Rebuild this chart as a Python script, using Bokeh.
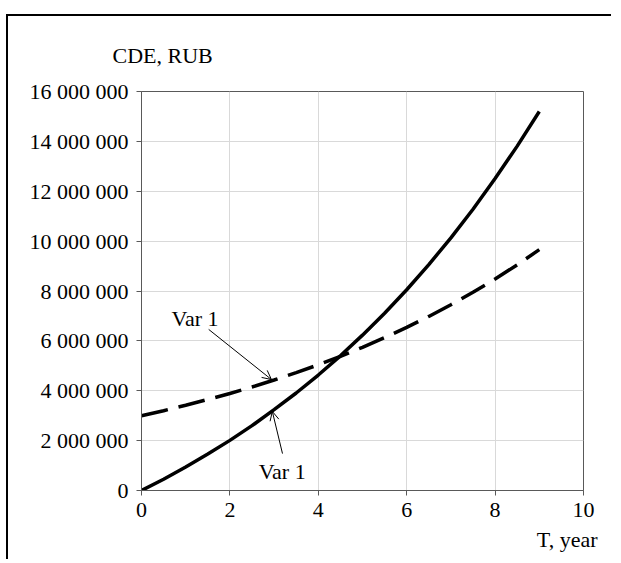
from bokeh.plotting import figure
from bokeh.models import Range1d, Label, Arrow, OpenHead, CustomJSTickFormatter, FixedTicker, Title
from bokeh.embed import file_html
from bokeh.resources import INLINE

# ---- data ----
t_years = [0, 0.5, 1, 1.5, 2, 2.5, 3, 3.5, 4, 4.5, 5, 5.5, 6, 6.5, 7, 7.5, 8, 8.5, 9]
cde_solid = [0, 450000, 940000, 1460000, 2010000, 2600000, 3240000, 3910000, 4630000,
             5400000, 6230000, 7110000, 8050000, 9060000, 10130000, 11280000, 12510000,
             13810000, 15200000]
cde_dashed = [3000000, 3200000, 3420000, 3650000, 3890000, 4150000, 4430000, 4730000,
              5040000, 5380000, 5740000, 6130000, 6540000, 6980000, 7450000, 7950000,
              8480000, 9050000, 9660000]
x_ticks = [0, 2, 4, 6, 8, 10]
y_ticks = [0, 2000000, 4000000, 6000000, 8000000, 10000000, 12000000, 14000000, 16000000]
label_text = "Var 1"
x_title = "T, year"
y_title = "CDE, RUB"

FONT = "Liberation Serif"
FS = "22px"

p = figure(width=605, height=545, output_backend="svg", toolbar_location=None,
           x_range=Range1d(0, 10), y_range=Range1d(0, 16000000),
           min_border_left=133, min_border_right=30, min_border_top=75, min_border_bottom=71)
p.styles = {"border-top": "2px solid black", "border-left": "2px solid black",
            "margin-top": "14px", "margin-left": "6px"}

p.background_fill_color = "white"
p.border_fill_color = "white"
p.outline_line_color = "#595959"
p.outline_line_width = 1

for ax in (p.xaxis[0], p.yaxis[0]):
    ax.axis_line_color = "#595959"
    ax.major_tick_line_color = "#595959"
    ax.major_tick_in = 0
    ax.major_tick_out = 5
    ax.minor_tick_line_color = None
    ax.major_label_text_font = FONT
    ax.major_label_text_font_size = FS
    ax.major_label_text_color = "black"

p.xaxis.ticker = FixedTicker(ticks=x_ticks)
p.yaxis.ticker = FixedTicker(ticks=y_ticks)
p.xaxis.major_label_standoff = 7
p.yaxis.major_label_standoff = 8
p.yaxis.formatter = CustomJSTickFormatter(code="""
    var s = Math.round(tick).toString();
    return s.replace(/\\B(?=(\\d{3})+(?!\\d))/g, ' ');
""")

p.xgrid.grid_line_color = "#d9d9d9"
p.ygrid.grid_line_color = "#d9d9d9"
p.xgrid.grid_line_width = 1
p.ygrid.grid_line_width = 1

p.line(t_years, cde_dashed, line_color="black", line_width=3.5, line_dash="27 11")
p.line(t_years, cde_solid, line_color="black", line_width=3.5)

# axis titles (as titles so they are not clipped)
p.add_layout(Title(text=y_title, align="left", offset=-29, standoff=48,
                   text_font=FONT, text_font_size=FS, text_font_style="normal",
                   text_color="black"), "above")
p.add_layout(Title(text=x_title, align="right", offset=-14, standoff=11,
                   text_font=FONT, text_font_size=FS, text_font_style="normal",
                   text_color="black"), "below")

# annotations
p.add_layout(Label(x=0.68, y=6900000, text=label_text, text_font=FONT, text_font_size=FS,
                   text_color="black", text_align="left", text_baseline="alphabetic"))
p.add_layout(Arrow(x_start=1.52, y_start=6460000, x_end=2.94, y_end=4450000,
                   line_width=1, line_color="black",
                   end=OpenHead(size=9, line_width=1, line_color="black")))
p.add_layout(Label(x=2.65, y=760000, text=label_text, text_font=FONT, text_font_size=FS,
                   text_color="black", text_align="left", text_baseline="alphabetic"))
p.add_layout(Arrow(x_start=3.19, y_start=1480000, x_end=2.96, y_end=3170000,
                   line_width=1, line_color="black",
                   end=OpenHead(size=9, line_width=1, line_color="black")))

open("out.html", "w").write(file_html(p, INLINE))
